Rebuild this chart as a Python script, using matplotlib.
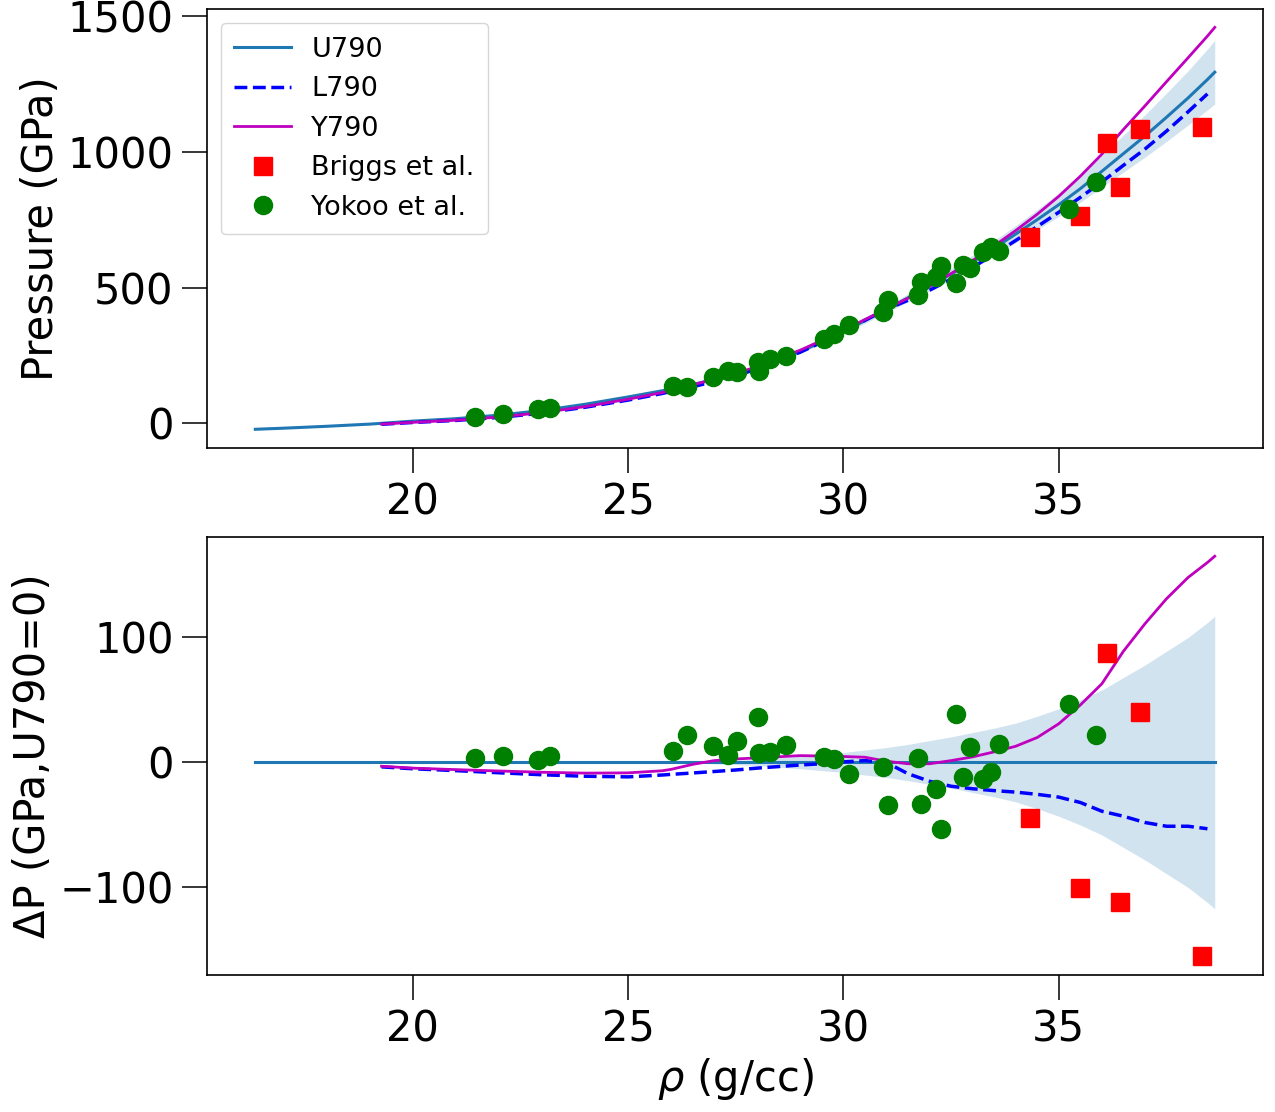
import numpy as np
import matplotlib
matplotlib.use('Agg')
import matplotlib.pyplot as plt

nan = np.nan

# density grid shared by the model curves (g/cc)
rho = np.array([16.35, 17, 18, 19, 19.28, 20, 21, 22, 23, 24, 25, 25.8, 26, 26.5,
                27, 27.5, 28, 29, 29.5, 30, 30.5, 31, 31.5, 32, 32.5, 33, 33.5,
                34, 34.5, 35, 35.5, 36, 36.5, 37, 37.5, 38, 38.45, 38.62])
# U790 pressure (GPa)
u790 = np.array([-22, -18, -11, -3, 0, 8, 17, 30, 47, 70, 97, 120, 127, 143,
                 161, 181, 205, 264, 300, 338, 378, 420, 462, 505, 550, 595, 645,
                 697, 750, 805, 864, 928, 993, 1058, 1127, 1198, 1266, 1293])
# Y790 - U790 (GPa)
dy790 = np.array([nan, nan, nan, nan, -3, -4.5, -5.7, -6.8, -7.8, -8.5, -8.3, -6.6, -5.5, -1.5,
                  1.5, 2.8, 3.7, 5.5, 5.2, 4.8, 4.2, 1, -1, -1, 1.5, 4.5, 8.5,
                  13, 20, 31, 46, 63, 89, 111, 131, 148, 160, 165])
# L790 - U790 (GPa)
dl790 = np.array([nan, nan, nan, nan, -3.5, -5, -6.5, -8.2, -9.8, -11, -11.5, -10, -9.5, -8.4,
                  -7.2, -6, -4.5, -2, -1, 0.5, 1.5, 0, -9, -15, -19, -21, -22.5,
                  -23.7, -25.5, -27.7, -32, -39, -43, -48, -51, -51, -53, nan])
# U790 uncertainty half width (GPa)
err = np.array([nan, nan, nan, nan, nan, nan, nan, nan, nan, nan, nan, 0, 0.2, 0.6,
                1, 1.7, 2.5, 5, 6.5, 8, 10, 12, 14.5, 17.5, 20.5, 24, 27.5,
                31.5, 37, 43, 50, 58, 68, 78, 89, 100, 112, 117])

# Briggs et al.
briggs_rho = [34.33, 35.50, 36.13, 36.43, 36.89, 38.32]
briggs_p = [687, 764, 1034, 872, 1084, 1091]
briggs_dp = [-44.3, -100.5, 87.7, -112, 40.3, -155]

# Yokoo et al.
yokoo_rho = [21.44, 22.11, 22.90, 23.19, 26.04, 26.38, 26.97, 27.32, 27.53, 28.01,
             28.03, 28.30, 28.66, 29.54, 29.79, 30.13, 30.92, 31.03, 31.73, 31.80,
             32.15, 32.27, 32.62, 32.77, 32.95, 33.24, 33.43, 33.61, 35.24, 35.87]
yokoo_p = [23, 36, 54, 56, 136, 134, 169, 193, 189, 226,
           192, 236, 248, 310, 328, 362, 411, 454, 472, 521,
           540, 579, 515, 583, 571, 632, 650, 636, 789, 890]
yokoo_dp = [3.8, 5.1, 2.1, 5.1, 9.1, 21.6, 13.3, 5.9, 17.1, 36.3,
            7.7, 8.3, 13.6, 4.3, 2.9, -9.6, -3.7, -34.4, 3.7, -33,
            -21.3, -53.3, 39, -11.7, 12.3, -13, -7.7, 15, 47, 21.6]


def style(ax):
    ax.tick_params(axis='both', which='major', labelsize=30, length=18, width=1.1, pad=6)
    for s in ax.spines.values():
        s.set_linewidth(1.2)
    ax.set_xlim(15.23, 39.74)
    ax.set_xticks([20, 25, 30, 35])


def main():
    fig = plt.figure(figsize=(12.75, 11.12), dpi=100)
    ax1 = fig.add_axes([0.1624, 0.5971, 0.8282, 0.3944])
    ax2 = fig.add_axes([0.1624, 0.1232, 0.8282, 0.3939])

    ok = ~np.isnan(err)
    ax1.fill_between(rho[ok], (u790 - err)[ok], (u790 + err)[ok], color='tab:blue', alpha=0.2, lw=0)
    ax1.plot(rho, u790, '-', color='tab:blue', lw=2.2, label='U790')
    ax1.plot(rho, u790 + dl790, '--', color='b', lw=2.5, label='L790')
    ax1.plot(rho, u790 + dy790, '-', color='m', lw=2, label='Y790')
    ax1.plot(briggs_rho, briggs_p, 'rs', ms=13.5, lw=0, label='Briggs et al.')
    ax1.plot(yokoo_rho, yokoo_p, 'o', color='g', ms=13, lw=0, label='Yokoo et al.')
    ax1.set_ylim(-91, 1524)
    ax1.set_yticks([0, 500, 1000, 1500])
    ax1.set_ylabel('Pressure (GPa)', fontsize=30)
    ax1.legend(loc='upper left', fontsize=19.5, handlelength=2.1, borderpad=0.5,
               labelspacing=0.5, handletextpad=0.75, borderaxespad=0.5)
    style(ax1)

    ax2.fill_between(rho[ok], -err[ok], err[ok], color='tab:blue', alpha=0.2, lw=0)
    ax2.plot(rho, np.zeros_like(u790), '-', color='tab:blue', lw=2.2)
    ax2.plot(rho, dl790, '--', color='b', lw=2.5)
    ax2.plot(rho, dy790, '-', color='m', lw=2)
    ax2.plot(briggs_rho, briggs_dp, 'rs', ms=13.5, lw=0)
    ax2.plot(yokoo_rho, yokoo_dp, 'o', color='g', ms=13, lw=0)
    ax2.set_ylim(-170, 180.4)
    ax2.set_yticks([-100, 0, 100])
    ax2.set_ylabel('ΔP (GPa,U790=0)', fontsize=30)
    ax2.set_xlabel(r'$\rho$ (g/cc)', fontsize=30)
    style(ax2)

    fig.savefig('out.png', dpi=100)


if __name__ == "__main__":
    main()
